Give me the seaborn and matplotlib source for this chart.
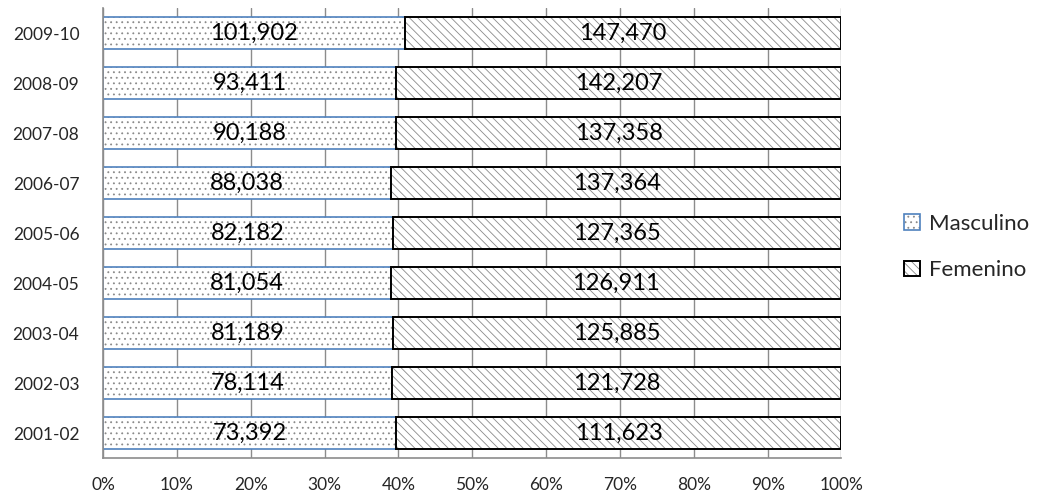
import pandas as pd
import numpy as np
import matplotlib
matplotlib.use("Agg")
import matplotlib.pyplot as plt
import seaborn as sns
from matplotlib.patches import Patch
from matplotlib.ticker import PercentFormatter

# data
years = ["2001-02", "2002-03", "2003-04", "2004-05", "2005-06",
         "2006-07", "2007-08", "2008-09", "2009-10"]
masculino = [73392, 78114, 81189, 81054, 82182, 88038, 90188, 93411, 101902]
femenino = [111623, 121728, 125885, 126911, 127365, 137364, 137358, 142207, 147470]

df = pd.DataFrame({"year": years, "Masculino": masculino, "Femenino": femenino})
df["total"] = df["Masculino"] + df["Femenino"]
df["pct_m"] = df["Masculino"] / df["total"] * 100
df["pct_f"] = df["Femenino"] / df["total"] * 100
order = years[::-1]  # 2009-10 on top
df = df.set_index("year").loc[order].reset_index()

sns.set_style("white")
plt.rcParams["font.family"] = ["Lato", "DejaVu Sans"]
plt.rcParams["hatch.linewidth"] = 0.6

BLUE = "#4F81BD"
HATCH_GRAY = "#8A8A8A"
DOTS = "..."
LINES = "\\\\\\\\"

fig = plt.figure(figsize=(10.43, 4.95), dpi=100)
ax = fig.add_axes([0.0988, 0.0747, 0.708, 0.909])


def layer(col, edge, lw, hatch=None, fill=True, shift=False):
    start = len(ax.patches)
    sns.barplot(data=df, y="year", x=col, order=order, orient="h",
                color="white", edgecolor=edge, linewidth=lw, fill=fill,
                width=0.64, ax=ax)
    for p, left in zip(ax.patches[start:], df["pct_m"]):
        if shift:
            p.set_x(left)
        if hatch:
            p.set_hatch(hatch)


# masculino: dotted fill, blue outline
layer("pct_m", HATCH_GRAY, 0, hatch=DOTS)
layer("pct_m", BLUE, 1.2, fill=False)
# femenino: diagonal lines, black outline, starting where masculino ends
layer("pct_f", HATCH_GRAY, 0, hatch=LINES, shift=True)
layer("pct_f", "black", 1.4, fill=False, shift=True)

# value labels
for i, row in df.iterrows():
    ax.text(row["pct_m"] / 2, i, f"{row['Masculino']:,}", ha="center", va="center",
            fontsize=17, color="black")
    ax.text(row["pct_m"] + row["pct_f"] / 2, i, f"{row['Femenino']:,}",
            ha="center", va="center", fontsize=17, color="black")

ax.set_xlim(0, 100)
ax.set_ylim(len(order) - 0.5, -0.5)
ax.set_xticks(np.arange(0, 101, 10))
ax.xaxis.set_major_formatter(PercentFormatter(decimals=0))
ax.set_xlabel("")
ax.set_ylabel("")
ax.tick_params(axis="both", labelsize=12.5, length=0)
ax.tick_params(axis="x", pad=14)
ax.tick_params(axis="y", pad=17)
ax.grid(axis="x", color="#8C8C8C", linewidth=1.0)
ax.set_axisbelow(True)
for s in ["top", "right"]:
    ax.spines[s].set_visible(False)
for s in ["left", "bottom"]:
    ax.spines[s].set_color("#8C8C8C")
    ax.spines[s].set_linewidth(1.2)

h_m = (Patch(facecolor="white", edgecolor=HATCH_GRAY, linewidth=0, hatch=DOTS),
       Patch(facecolor="none", edgecolor=BLUE, linewidth=1.2))
h_f = (Patch(facecolor="white", edgecolor=HATCH_GRAY, linewidth=0, hatch=LINES),
       Patch(facecolor="none", edgecolor="black", linewidth=1.4))
ax.legend([h_m, h_f], ["Masculino", "Femenino"], loc="center left",
          bbox_to_anchor=(1.058, 0.469), frameon=False, fontsize=16,
          handlelength=0.7, handleheight=0.7, handletextpad=0.4,
          labelspacing=1.2)

fig.savefig("out.png", dpi=100)
